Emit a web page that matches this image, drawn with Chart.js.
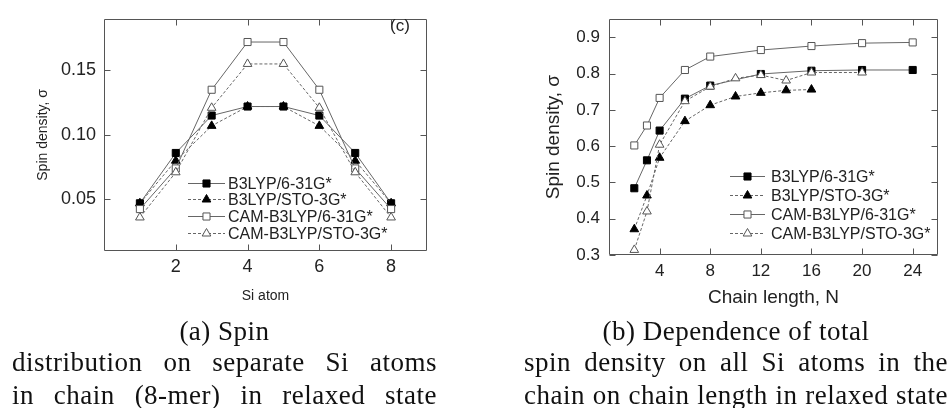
<!DOCTYPE html>
<html>
<head>
<meta charset="utf-8">
<script src="https://cdn.jsdelivr.net/npm/chart.js@4/dist/chart.umd.min.js"></script>
<style>
  html, body { margin: 0; padding: 0; background: #fff; }
  body { width: 952px; height: 408px; position: relative; overflow: hidden; }
  .panel { position: absolute; top: 0; width: 476px; height: 320px; }
  .cap { position: absolute; font-family: "Liberation Serif", "Times New Roman", serif; font-size: 27px;
         letter-spacing: 0.5px; color: #111; white-space: nowrap; line-height: 30px; }
  .c { text-align: center; }
  .j { text-align: justify; text-align-last: justify; }
</style>
</head>
<body>
<div class="panel" style="left:0"><canvas id="atoms"></canvas></div>
<div class="panel" style="left:476px"><canvas id="chain"></canvas></div>

<div class="cap c" style="left:12px;width:425px;top:316px">(a) Spin</div>
<div class="cap j" style="left:12px;width:425px;top:347px">distribution on separate Si atoms</div>
<div class="cap j" style="left:12px;width:425px;top:380px">in chain (8-mer) in relaxed state</div>

<div class="cap c" style="left:524px;width:424px;top:316px">(b) Dependence of total</div>
<div class="cap j" style="left:524px;width:424px;top:347px">spin density on all Si atoms in the</div>
<div class="cap j" style="left:524px;width:424px;top:380px">chain on chain length in relaxed state</div>

<script>
// ---- spin density on the individual Si atoms of the 8-mer ----
const siAtom         = [1, 2, 3, 4, 5, 6, 7, 8];
const b3lyp631Atom   = [0.047, 0.086, 0.115, 0.122, 0.122, 0.115, 0.086, 0.047];
const b3lypSto3Atom  = [0.047, 0.080, 0.107, 0.122, 0.122, 0.107, 0.080, 0.047];
const cam631Atom     = [0.0425, 0.074, 0.135, 0.172, 0.172, 0.135, 0.074, 0.0425];
const camSto3Atom    = [0.036, 0.071, 0.121, 0.155, 0.155, 0.121, 0.071, 0.036];
const atomTicksX     = [2, 4, 6, 8];
const atomTicksY     = [0.05, 0.10, 0.15];

// ---- total spin density versus chain length N ----
const chainN631      = [2, 3, 4, 6, 8, 12, 16, 20, 24];
const b3lyp631Chain  = [0.484, 0.561, 0.643, 0.731, 0.767, 0.799, 0.808, 0.810, 0.810];
const chainNSto3     = [2, 3, 4, 6, 8, 10, 12, 14, 16];
const b3lypSto3Chain = [0.371, 0.464, 0.568, 0.669, 0.713, 0.737, 0.747, 0.754, 0.756];
const cam631Chain    = [0.602, 0.657, 0.733, 0.810, 0.847, 0.865, 0.876, 0.884, 0.886];
const chainNCamSto3  = [2, 3, 4, 6, 8, 10, 12, 14, 16, 20];
const camSto3Chain   = [0.314, 0.420, 0.604, 0.724, 0.764, 0.787, 0.796, 0.781, 0.803, 0.803];
const chainTicksX    = [4, 8, 12, 16, 20, 24];
const chainTicksY    = [0.3, 0.4, 0.5, 0.6, 0.7, 0.8, 0.9];

const methods = ['B3LYP/6-31G*', 'B3LYP/STO-3G*', 'CAM-B3LYP/6-31G*', 'CAM-B3LYP/STO-3G*'];

const SANS = '"Liberation Sans", Arial, sans-serif';
const INK = '#222';
const LINE = '#666';

// marker / line look of each method (same in both panels)
const looks = [
  { style: 'rect',     fill: '#000', stroke: '#000', dash: [] },
  { style: 'triangle', fill: '#000', stroke: '#000', dash: [3, 2] },
  { style: 'rect',     fill: '#fff', stroke: '#555', dash: [] },
  { style: 'triangle', fill: '#fff', stroke: '#555', dash: [3, 2] }
];

function pairs(xs, ys) { return xs.map((x, i) => ({ x: x, y: ys[i] })); }

function makeDatasets(series) {
  return series.map((pts, i) => ({
    label: methods[i],
    data: pts,
    showLine: true,
    borderColor: LINE,
    borderWidth: 1,
    borderDash: looks[i].dash,
    fill: false,
    tension: 0,
    pointStyle: looks[i].style,
    pointRadius: 5,
    pointHoverRadius: 5,
    pointBackgroundColor: looks[i].fill,
    pointBorderColor: looks[i].stroke,
    pointBorderWidth: 1,
    clip: false,
    order: 3 - i
  }));
}

function drawMarker(ctx, style, x, y, r, fill, stroke) {
  ctx.save();
  ctx.setLineDash([]);
  ctx.beginPath();
  if (style === 'rect') {
    const s = r * Math.SQRT1_2;
    ctx.rect(x - s, y - s, 2 * s, 2 * s);
  } else {
    const a = 2 * Math.PI / 3;
    ctx.moveTo(x, y - r);
    ctx.lineTo(x + Math.sin(a) * r, y - Math.cos(a) * r);
    ctx.lineTo(x + Math.sin(2 * a) * r, y - Math.cos(2 * a) * r);
    ctx.closePath();
  }
  ctx.fillStyle = fill;
  ctx.fill();
  ctx.lineWidth = 1;
  ctx.strokeStyle = stroke;
  ctx.stroke();
  ctx.restore();
}

// boxed frame with inward ticks on all four sides
const framePlugin = {
  id: 'frame',
  beforeDatasetsDraw(chart) {
    const { ctx, chartArea: a, scales: { x, y } } = chart;
    const L = Math.round(a.left) + 0.5, R = Math.round(a.right) - 0.5;
    const T = Math.round(a.top) + 0.5, B = Math.round(a.bottom) - 0.5;
    const tl = 6;
    ctx.save();
    ctx.strokeStyle = '#555';
    ctx.lineWidth = 1;
    ctx.beginPath();
    ctx.rect(L, T, R - L, B - T);
    x.ticks.forEach(t => {
      const px = Math.round(x.getPixelForValue(t.value)) + 0.5;
      ctx.moveTo(px, B); ctx.lineTo(px, B - tl);
      ctx.moveTo(px, T); ctx.lineTo(px, T + tl);
    });
    y.ticks.forEach(t => {
      const py = Math.round(y.getPixelForValue(t.value)) + 0.5;
      ctx.moveTo(L, py); ctx.lineTo(L + tl, py);
      ctx.moveTo(R, py); ctx.lineTo(R - tl, py);
    });
    ctx.stroke();
    ctx.restore();
  }
};

// legend rows: line sample with the marker in its middle, then the label
const keyPlugin = {
  id: 'key',
  afterDatasetsDraw(chart, args, o) {
    const ctx = chart.ctx;
    ctx.save();
    ctx.font = o.fontSize + 'px ' + SANS;
    ctx.fillStyle = INK;
    ctx.textBaseline = 'middle';
    chart.data.datasets.forEach((ds, i) => {
      const yy = Math.round(o.y0 + i * o.dy) + 0.5;
      ctx.strokeStyle = LINE;
      ctx.lineWidth = 1;
      ctx.setLineDash(looks[i].dash);
      ctx.beginPath();
      ctx.moveTo(o.x0, yy);
      ctx.lineTo(o.x1, yy);
      ctx.stroke();
      drawMarker(ctx, looks[i].style, (o.x0 + o.x1) / 2, yy, 5, looks[i].fill, looks[i].stroke);
      ctx.fillStyle = INK;
      ctx.fillText(ds.label, o.tx, yy + 1);
    });
    if (o.tag) {
      ctx.font = '17px ' + SANS;
      ctx.textAlign = 'center';
      ctx.fillText(o.tag.text, o.tag.x, o.tag.y);
    }
    ctx.restore();
  }
};

function makeChart(id, cfg) {
  return new Chart(document.getElementById(id), {
    type: 'line',
    data: { datasets: makeDatasets(cfg.series) },
    plugins: [framePlugin, keyPlugin],
    options: {
      responsive: true,
      maintainAspectRatio: false,
      animation: false,
      devicePixelRatio: 1,
      layout: { padding: cfg.padding },
      plugins: { legend: { display: false }, tooltip: { enabled: false }, key: cfg.key },
      scales: {
        x: {
          type: 'linear',
          min: cfg.xMin, max: cfg.xMax,
          afterBuildTicks: s => { s.ticks = cfg.xTicks.map(v => ({ value: v })); },
          afterFit: s => { s.height = cfg.xAxisHeight; },
          grid: { display: false, drawTicks: false },
          border: { display: false },
          ticks: { font: { family: SANS, size: cfg.tickSize }, color: INK, padding: cfg.xTickPad,
                   maxRotation: 0, callback: v => String(v) },
          title: { display: true, text: cfg.xTitle, color: INK,
                   font: { family: SANS, size: cfg.xTitleSize }, padding: { top: 0, bottom: cfg.xTitlePad } }
        },
        y: {
          type: 'linear',
          min: cfg.yMin, max: cfg.yMax,
          afterBuildTicks: s => { s.ticks = cfg.yTicks.map(v => ({ value: v })); },
          afterFit: s => { s.width = cfg.yAxisWidth; },
          grid: { display: false, drawTicks: false },
          border: { display: false },
          ticks: { font: { family: SANS, size: cfg.tickSize }, color: INK, padding: cfg.yTickPad,
                   callback: v => v.toFixed(cfg.yDigits) },
          title: { display: true, text: 'Spin density, σ', color: INK,
                   font: { family: SANS, size: cfg.yTitleSize }, padding: { top: cfg.yTitlePad, bottom: 0 } }
        }
      }
    }
  });
}

makeChart('atoms', {
  series: [pairs(siAtom, b3lyp631Atom), pairs(siAtom, b3lypSto3Atom),
           pairs(siAtom, cam631Atom), pairs(siAtom, camSto3Atom)],
  xMin: 0, xMax: 9, yMin: 0.01, yMax: 0.19,
  xTicks: atomTicksX, yTicks: atomTicksY, yDigits: 2,
  padding: { left: 0, top: 13, right: 49, bottom: 0 },
  xAxisHeight: 69, yAxisWidth: 104,
  tickSize: 18, xTickPad: 5, yTickPad: 8,
  xTitle: 'Si atom', xTitleSize: 14, xTitlePad: 15,
  yTitleSize: 14, yTitlePad: 35,
  key: { x0: 188, x1: 225, tx: 228, y0: 182.5, dy: 16.9, fontSize: 16,
         tag: { text: '(c)', x: 400, y: 26 } }
});

makeChart('chain', {
  series: [pairs(chainN631, b3lyp631Chain), pairs(chainNSto3, b3lypSto3Chain),
           pairs(chainN631, cam631Chain), pairs(chainNCamSto3, camSto3Chain)],
  xMin: 0, xMax: 26, yMin: 0.3, yMax: 0.95,
  xTicks: chainTicksX, yTicks: chainTicksY, yDigits: 1,
  padding: { left: 0, top: 15, right: 14, bottom: 0 },
  xAxisHeight: 65, yAxisWidth: 133,
  tickSize: 17, xTickPad: 6, yTickPad: 9,
  xTitle: 'Chain length, N', xTitleSize: 19, xTitlePad: 11,
  yTitleSize: 19, yTitlePad: 66,
  key: { x0: 254, x1: 289, tx: 295, y0: 176, dy: 19.1, fontSize: 16 }
});
</script>
</body>
</html>
